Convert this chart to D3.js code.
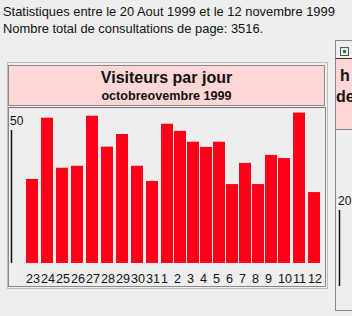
<!DOCTYPE html>
<html><head><meta charset="utf-8">
<script src="https://cdn.jsdelivr.net/npm/d3@7"></script>
<style>
html,body{margin:0;padding:0;background:#eeeeee;overflow:hidden;}
svg{display:block;}
</style></head>
<body>
<script>
const headerLines = ["Statistiques entre le 20 Aout 1999 et le 12 novembre 1999",
                     "Nombre total de consultations de page: 3516."];
const chartTitle = "Visiteurs par jour";
const chartSubtitle = "octobreovembre 1999";
const days = ["23","24","25","26","27","28","29","30","31","1","2","3","4","5","6","7","8","9","10","11","12"];
const visitors = [29.4,50.8,33.3,34,51.5,40.7,45.1,34,28.7,48.7,46.2,42.4,40.6,42.4,27.6,35,27.6,37.8,36.7,52.6,24.8];
const yTicks = [50];
const sideTitle = ["h","de"];
const sideTicks = [20];

const W = 352, H = 316;
const svg = d3.select("body").append("svg").attr("width", W).attr("height", H);
const font = "'Liberation Sans', Arial, Helvetica, sans-serif";

// header text
svg.selectAll("text.hdr").data(headerLines).join("text")
  .attr("class","hdr").attr("x",3).attr("y",(d,i)=>16+i*17)
  .attr("font-family",font).attr("font-size",12.9).attr("fill","#111").text(d=>d);

// outer frame of left panel
svg.append("rect").attr("x",7.5).attr("y",62.5).attr("width",320).attr("height",226)
  .attr("fill","none").attr("stroke","#bdbdbd");
// title box
svg.append("rect").attr("x",8.5).attr("y",65.5).attr("width",316).attr("height",40)
  .attr("fill","#ffd6d6").attr("stroke","#888");
// chart box
svg.append("rect").attr("x",8.5).attr("y",107.5).attr("width",317).attr("height",179)
  .attr("fill","#eeeeee").attr("stroke","#888");
svg.append("line").attr("x1",8.5).attr("x2",325.5).attr("y1",107.5).attr("y2",107.5).attr("stroke","#777");

svg.append("text").attr("x",166.5).attr("y",83).attr("text-anchor","middle")
  .attr("font-family",font).attr("font-weight","bold").attr("font-size",16).attr("fill","#111").text(chartTitle);
svg.append("text").attr("x",166.5).attr("y",100).attr("text-anchor","middle")
  .attr("font-family",font).attr("font-weight","bold").attr("font-size",12.6).attr("fill","#111").text(chartSubtitle);

// x positions: slot width depends on label width (1 or 2 digits)
const slot = days.map(d => d.length === 1 ? 13 : 15);
const starts = slot.map((s,i)=>d3.sum(slot.slice(0,i)));
const total = d3.sum(slot);
const x = d3.scaleLinear().domain([0,total]).range([26, 26+total]);
const barW = 12;
const y = d3.scaleLinear().domain([0,50]).range([263,120]);

svg.append("g").selectAll("rect").data(visitors).join("rect")
  .attr("x",(d,i)=>x(starts[i])).attr("width",barW)
  .attr("y",d=>y(d)).attr("height",d=>y(0)-y(d)).attr("fill","#ff0019");

svg.append("g").selectAll("text").data(days).join("text")
  .attr("x",(d,i)=>x(starts[i])).attr("y",283)
  .attr("font-family",font).attr("font-size",12.6).attr("fill","#111").text(d=>d);

// y axis line and label
svg.append("line").attr("x1",11.5).attr("x2",11.5).attr("y1",y(0)).attr("y2",y(46.5))
  .attr("stroke","#111").attr("stroke-width",1.5);
svg.selectAll("text.yt").data(yTicks).join("text").attr("class","yt")
  .attr("x",10).attr("y",d=>y(d)+5)
  .attr("font-family",font).attr("font-size",12).attr("fill","#111").text(d=>d);

// right partial panel
svg.append("rect").attr("x",335.5).attr("y",40.5).attr("width",30).attr("height",270)
  .attr("fill","#eeeeee").attr("stroke","#888");
svg.append("rect").attr("x",335.5).attr("y",58.5).attr("width",30).attr("height",71)
  .attr("fill","#ffd6d6").attr("stroke","#888");
svg.append("line").attr("x1",335.5).attr("x2",352).attr("y1",58.5).attr("y2",58.5).attr("stroke","#333");
svg.append("rect").attr("x",340.5).attr("y",47.5).attr("width",8).attr("height",8)
  .attr("fill","#e8e8e8").attr("stroke","#555");
svg.append("rect").attr("x",343).attr("y",50).attr("width",3).attr("height",3).attr("fill","#2a8a2a");
svg.append("text").attr("x",340).attr("y",81).attr("font-family",font).attr("font-weight","bold")
  .attr("font-size",16).attr("fill","#111").text(sideTitle[0]);
svg.append("text").attr("x",336).attr("y",102).attr("font-family",font).attr("font-weight","bold")
  .attr("font-size",16).attr("fill","#111").text(sideTitle[1]);
svg.selectAll("text.st").data(sideTicks).join("text").attr("class","st")
  .attr("x",338).attr("y",205).attr("font-family",font).attr("font-size",12).attr("fill","#111").text(d=>d);
svg.append("line").attr("x1",339.5).attr("x2",339.5).attr("y1",210).attr("y2",286)
  .attr("stroke","#111").attr("stroke-width",1.5);
</script>
</body></html>
